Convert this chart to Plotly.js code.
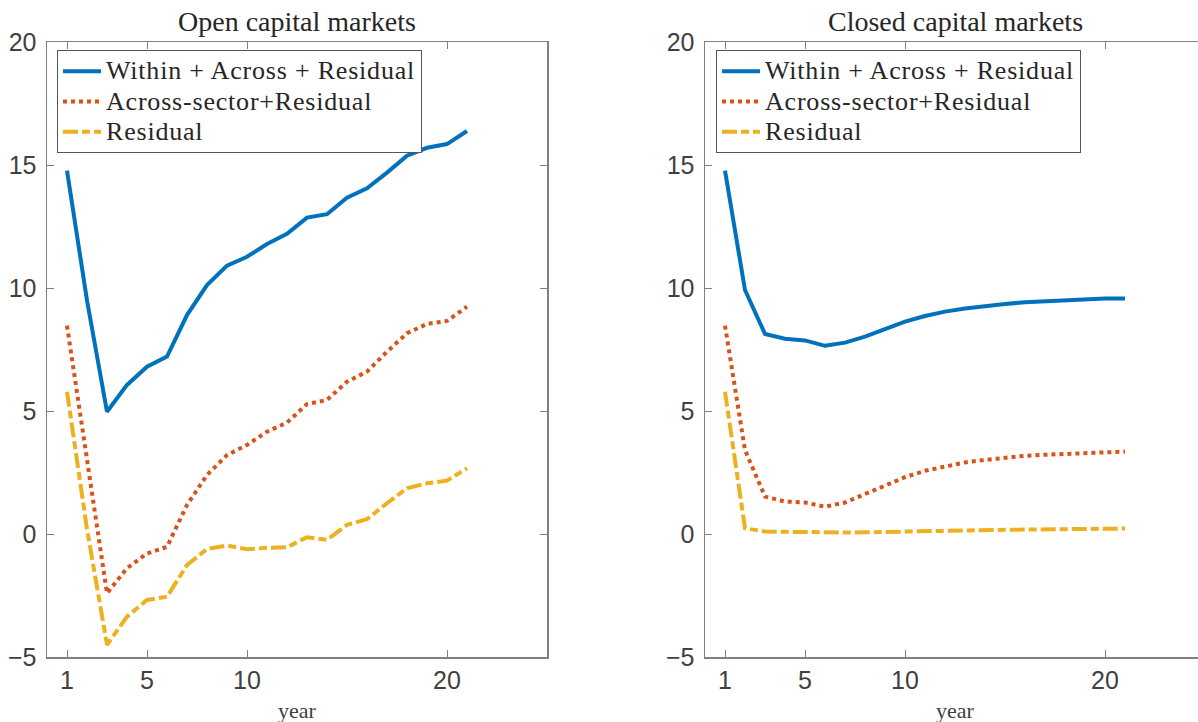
<!DOCTYPE html>
<html>
<head>
<meta charset="utf-8">
<script src="https://cdn.plot.ly/plotly-3.0.1.min.js"></script>
<style>
html,body{margin:0;padding:0;background:#fff;}
#chart{width:1198px;height:722px;}
text.legendtext{font-size:26px !important;letter-spacing:0.8px;}
</style>
</head>
<body>
<div id="chart"></div>
<script>
const years = [1,2,3,4,5,6,7,8,9,10,11,12,13,14,15,16,17,18,19,20,21];
const seriesNames = ['Within + Across + Residual', 'Across-sector+Residual', 'Residual'];
const panelTitles = ['Open capital markets', 'Closed capital markets'];
const xTickVals = [1,5,10,20];
const yTickVals = [-5,0,5,10,15,20];

const openTotal = [14.77,9.5,4.97,6.06,6.8,7.21,8.9,10.12,10.91,11.27,11.79,12.2,12.86,13.0,13.67,14.05,14.69,15.38,15.7,15.85,16.38];
const openAcross = [8.47,2.9,-2.41,-1.39,-0.79,-0.52,1.18,2.4,3.21,3.62,4.16,4.53,5.28,5.45,6.19,6.6,7.41,8.16,8.54,8.66,9.24];
const openResidual = [5.78,0.2,-4.51,-3.36,-2.68,-2.55,-1.26,-0.61,-0.47,-0.62,-0.56,-0.54,-0.13,-0.24,0.37,0.6,1.25,1.86,2.06,2.17,2.67];

const closedTotal = [14.77,9.92,8.13,7.94,7.87,7.65,7.78,8.02,8.33,8.63,8.86,9.04,9.17,9.27,9.35,9.42,9.46,9.47,9.54,9.57,9.57];
const closedAcross = [8.47,3.41,1.52,1.32,1.28,1.11,1.28,1.62,2.0,2.31,2.57,2.74,2.91,3.01,3.11,3.18,3.22,3.26,3.31,3.35,3.35];
const closedResidual = [5.78,0.23,0.1,0.08,0.07,0.06,0.06,0.07,0.09,0.11,0.12,0.14,0.15,0.16,0.17,0.18,0.19,0.2,0.2,0.21,0.22];

const colors = ['#0072BD', '#D95319', '#EDB120'];
const dashes = ['solid', '4px,4px', '15px,4px,8px,4px'];

function mk(y, i, xa, ya, leg) {
  return {
    x: years, y: y, type: 'scatter', mode: 'lines', name: seriesNames[i],
    xaxis: xa, yaxis: ya, legend: leg,
    line: {color: colors[i], width: 4, dash: dashes[i]}
  };
}

const traces = [
  mk(openTotal, 0, 'x', 'y', 'legend'),
  mk(openAcross, 1, 'x', 'y', 'legend'),
  mk(openResidual, 2, 'x', 'y', 'legend'),
  mk(closedTotal, 0, 'x2', 'y2', 'legend2'),
  mk(closedAcross, 1, 'x2', 'y2', 'legend2'),
  mk(closedResidual, 2, 'x2', 'y2', 'legend2')
];

const W = 1198, H = 722;
const axCol = '#808080';
const tickFont = {family: 'Liberation Sans, Arial, sans-serif', size: 25, color: '#404040'};
const serif = 'Liberation Serif, Times New Roman, serif';

function xa(domain, range, anchor) {
  return {domain: domain, range: range, anchor: anchor, tickvals: xTickVals, ticks: 'inside', ticklen: 7,
    tickcolor: axCol, showline: true, linecolor: axCol, linewidth: 1.5, mirror: 'ticks',
    showgrid: false, zeroline: false, tickfont: tickFont, fixedrange: true};
}
function ya(domain, anchor, mirror) {
  return {domain: domain, range: [-5, 20], anchor: anchor, tickvals: yTickVals, ticks: 'inside', ticklen: 7,
    tickcolor: axCol, showline: true, linecolor: axCol, linewidth: 1.5, mirror: mirror,
    showgrid: false, zeroline: false, tickfont: tickFont, ticklabelstandoff: 4, fixedrange: true};
}

const yDom = [(H - 657) / H, (H - 42) / H];
const legFont = {family: serif, size: 21, color: '#262626'};

const layout = {
  width: W, height: H,
  margin: {l: 0, r: 0, t: 0, b: 0},
  paper_bgcolor: '#fff', plot_bgcolor: '#fff',
  showlegend: true,
  xaxis: xa([47 / W, 547 / W], [0, 25], 'y'),
  yaxis: ya(yDom, 'x', 'ticks'),
  xaxis2: xa([705 / W, 1], [0, (W - 705) / 20], 'y2'),
  yaxis2: ya(yDom, 'x2', false),
  legend: {x: 57 / W, y: (H - 50) / H, xanchor: 'left', yanchor: 'top', bgcolor: '#fff',
    bordercolor: '#555', borderwidth: 1, font: legFont, tracegroupgap: 0, itemwidth: 38},
  legend2: {x: 716 / W, y: (H - 50) / H, xanchor: 'left', yanchor: 'top', bgcolor: '#fff',
    bordercolor: '#555', borderwidth: 1, font: legFont, tracegroupgap: 0, itemwidth: 38},
  annotations: [
    {text: panelTitles[0], xref: 'paper', yref: 'paper', x: 297 / W, y: (H - 21) / H, xanchor: 'center', yanchor: 'middle',
      showarrow: false, font: {family: serif, size: 28, color: '#262626'}},
    {text: panelTitles[1], xref: 'paper', yref: 'paper', x: 955 / W, y: (H - 21) / H, xanchor: 'center', yanchor: 'middle',
      showarrow: false, font: {family: serif, size: 28, color: '#262626'}},
    {text: 'year', xref: 'paper', yref: 'paper', x: 297 / W, y: (H - 710) / H, xanchor: 'center', yanchor: 'middle',
      showarrow: false, font: {family: serif, size: 22, color: '#404040'}},
    {text: 'year', xref: 'paper', yref: 'paper', x: 955 / W, y: (H - 710) / H, xanchor: 'center', yanchor: 'middle',
      showarrow: false, font: {family: serif, size: 22, color: '#404040'}}
  ]
};

function enlargeLegendText() {
  document.querySelectorAll('#chart svg text').forEach(function (t) {
    if (seriesNames.indexOf(t.textContent) >= 0) {
      const st = (t.getAttribute('style') || '').replace(/font-size:[^;]*;?/g, '');
      t.setAttribute('style', st + ';font-size:26px !important;letter-spacing:0.8px;');
    }
  });
}

Plotly.newPlot('chart', traces, layout, {displayModeBar: false, staticPlot: true}).then(function () {
  enlargeLegendText();
  setTimeout(enlargeLegendText, 0);
  setTimeout(enlargeLegendText, 100);
});
</script>
</body>
</html>
